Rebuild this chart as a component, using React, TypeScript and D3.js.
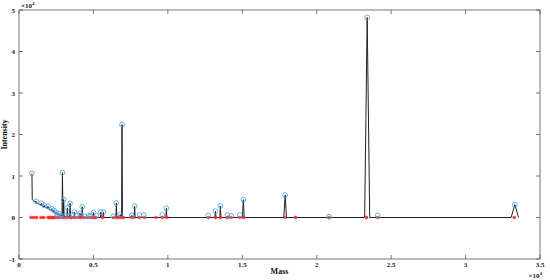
import React from "react";
import * as d3 from "d3";

// Peak tops (blue circles): mass (×1e4), intensity (×1e4)
const peakMass = [0.087, 0.114, 0.150, 0.170, 0.195, 0.220, 0.235, 0.250, 0.260, 0.270, 0.280, 0.292, 0.300, 0.310, 0.325, 0.335, 0.343, 0.360, 0.372, 0.390, 0.410, 0.425, 0.440, 0.470, 0.480, 0.500, 0.520, 0.550, 0.567, 0.634, 0.654, 0.680, 0.692, 0.757, 0.777, 0.810, 0.837, 0.963, 0.990, 1.272, 1.320, 1.353, 1.400, 1.425, 1.483, 1.507, 1.788, 2.083, 2.339, 2.410, 3.331];
const peakIntensity = [1.06, 0.39, 0.34, 0.29, 0.27, 0.21, 0.17, 0.12, 0.05, 0.09, 0.04, 1.08, 0.43, 0.05, 0.23, 0.04, 0.34, 0.06, 0.13, 0.05, 0.10, 0.26, 0.03, 0.04, 0.03, 0.12, 0.04, 0.13, 0.13, 0.03, 0.35, 0.07, 2.24, 0.05, 0.27, 0.06, 0.06, 0.06, 0.22, 0.05, 0.15, 0.28, 0.06, 0.04, 0.06, 0.43, 0.54, 0.02, 4.82, 0.05, 0.31];

// Detected positions on baseline (red asterisks)
const markerMass = [0.081, 0.099, 0.117, 0.148, 0.166, 0.195, 0.204, 0.215, 0.224, 0.235, 0.242, 0.258, 0.271, 0.293, 0.307, 0.320, 0.338, 0.352, 0.372, 0.394, 0.414, 0.432, 0.455, 0.473, 0.493, 0.506, 0.515, 0.562, 0.638, 0.656, 0.670, 0.686, 0.701, 0.753, 0.771, 0.808, 0.842, 0.921, 0.963, 0.993, 1.272, 1.320, 1.353, 1.400, 1.424, 1.483, 1.510, 1.788, 1.857, 2.083, 2.334, 2.410, 3.327];

// Spectrum line vertices
const lineMass = [0.087, 0.089, 0.100, 0.112, 0.114, 0.117, 0.135, 0.148, 0.150, 0.153, 0.168, 0.170, 0.173, 0.192, 0.195, 0.198, 0.217, 0.220, 0.223, 0.232, 0.235, 0.238, 0.247, 0.250, 0.253, 0.267, 0.270, 0.273, 0.289, 0.292, 0.295, 0.298, 0.300, 0.303, 0.322, 0.325, 0.328, 0.340, 0.343, 0.346, 0.369, 0.372, 0.375, 0.407, 0.410, 0.413, 0.422, 0.425, 0.428, 0.497, 0.500, 0.503, 0.547, 0.550, 0.553, 0.564, 0.567, 0.570, 0.651, 0.654, 0.657, 0.677, 0.680, 0.683, 0.689, 0.692, 0.695, 0.754, 0.757, 0.760, 0.774, 0.777, 0.780, 0.987, 0.990, 0.993, 1.317, 1.320, 1.323, 1.349, 1.353, 1.357, 1.501, 1.507, 1.513, 1.779, 1.788, 1.797, 2.322, 2.339, 2.356, 3.306, 3.331, 3.356];
const lineIntensity = [1.06, 0.43, 0.40, 0.37, 0.39, 0.36, 0.32, 0.30, 0.34, 0.29, 0.26, 0.29, 0.25, 0.22, 0.27, 0.21, 0.17, 0.21, 0.16, 0.14, 0.17, 0.13, 0.10, 0.12, 0.09, 0.07, 0.09, 0.06, 0.04, 1.08, 0.04, 0.04, 0.43, 0.03, 0.02, 0.23, 0.02, 0.01, 0.34, 0.01, 0.01, 0.13, 0, 0, 0.10, 0, 0, 0.26, 0, 0, 0.12, 0, 0, 0.13, 0, 0, 0.13, 0, 0, 0.35, 0, 0, 0.07, 0, 0, 2.24, 0, 0, 0.05, 0, 0, 0.27, 0, 0, 0.22, 0, 0, 0.15, 0, 0, 0.28, 0, 0, 0.43, 0, 0, 0.54, 0, 0, 4.82, 0, 0, 0.31, 0];

const xTicks = [0, 0.5, 1, 1.5, 2, 2.5, 3, 3.5];
const xTickLabels = ["0", "0.5", "1", "1.5", "2", "2.5", "3", "3.5"];
const yTicks = [-1, 0, 1, 2, 3, 4, 5];
const yTickLabels = ["-1", "0", "1", "2", "3", "4", "5"];

const W = 550, H = 280;
const L = 19, R = 540, T = 10, B = 259;
const FONT = "'Liberation Serif', 'Times New Roman', serif";
const AX = "#555";

export default function App() {
  const x = d3.scaleLinear().domain([0, 3.5]).range([L, R]);
  const y = d3.scaleLinear().domain([-1, 5]).range([B, T]);
  const pts: [number, number][] = lineMass.map((m, i) => [m, lineIntensity[i]]);
  const line = d3.line<[number, number]>().x(d => x(d[0])).y(d => y(d[1]));
  const tl = 4;
  const s = 1.8;
  return (
    <svg width={W} height={H} style={{ position: "absolute", left: 0, top: 0, background: "#fff" }}>
      <rect x={0} y={0} width={W} height={H} fill="#fff" />
      {/* box */}
      <rect x={L} y={T} width={R - L} height={B - T} fill="none" stroke={AX} strokeWidth={0.8} />
      {xTicks.map((t, i) => (
        <g key={"xt" + i}>
          <line x1={x(t)} x2={x(t)} y1={B} y2={B - tl} stroke={AX} strokeWidth={0.8} />
          <line x1={x(t)} x2={x(t)} y1={T} y2={T + tl} stroke={AX} strokeWidth={0.8} />
          <text x={x(t)} y={B + 7.5} fontSize={7} fontWeight="bold" fontFamily={FONT} textAnchor="middle" fill="#222">{xTickLabels[i]}</text>
        </g>
      ))}
      {yTicks.map((t, i) => (
        <g key={"yt" + i}>
          <line x1={L} x2={L + tl} y1={y(t)} y2={y(t)} stroke={AX} strokeWidth={0.8} />
          <line x1={R} x2={R - tl} y1={y(t)} y2={y(t)} stroke={AX} strokeWidth={0.8} />
          <text x={L - 4} y={y(t) + 2.5} fontSize={7} fontWeight="bold" fontFamily={FONT} textAnchor="end" fill="#222">{yTickLabels[i]}</text>
        </g>
      ))}
      <text x={L + 2} y={T - 2} fontSize={7} fontWeight="bold" fontFamily={FONT} fill="#222">
        ×10<tspan fontSize={5} dy={-3}>4</tspan>
      </text>
      <text x={R + 2} y={H - 2} fontSize={7} fontWeight="bold" fontFamily={FONT} fill="#222" textAnchor="end">
        ×10<tspan fontSize={5} dy={-3}>4</tspan>
      </text>
      <text x={(L + R) / 2} y={B + 15} fontSize={8} fontWeight="bold" fontFamily={FONT} textAnchor="middle" fill="#111">Mass</text>
      <text transform={`translate(7,${(T + B) / 2}) rotate(-90)`} fontSize={8} fontWeight="bold" fontFamily={FONT} textAnchor="middle" fill="#111">Intensity</text>
      {/* spectrum */}
      <path d={line(pts) || ""} fill="none" stroke="#222" strokeWidth={1} strokeLinejoin="round" />
      {/* baseline markers */}
      {markerMass.map((m, i) => {
        const cx = x(m), cy = y(0);
        return (
          <g key={"mk" + i} stroke="#ff2020" strokeWidth={0.9}>
            <line x1={cx - s} x2={cx + s} y1={cy} y2={cy} />
            <line x1={cx} x2={cx} y1={cy - s} y2={cy + s} />
            <line x1={cx - s * 0.75} x2={cx + s * 0.75} y1={cy - s * 0.75} y2={cy + s * 0.75} />
            <line x1={cx - s * 0.75} x2={cx + s * 0.75} y1={cy + s * 0.75} y2={cy - s * 0.75} />
          </g>
        );
      })}
      {/* peak circles */}
      {peakMass.map((m, i) => (
        <circle key={"pk" + i} cx={x(m)} cy={y(peakIntensity[i])} r={2.4} fill="none" stroke="#4a9bdb" strokeWidth={0.8} />
      ))}
    </svg>
  );
}
